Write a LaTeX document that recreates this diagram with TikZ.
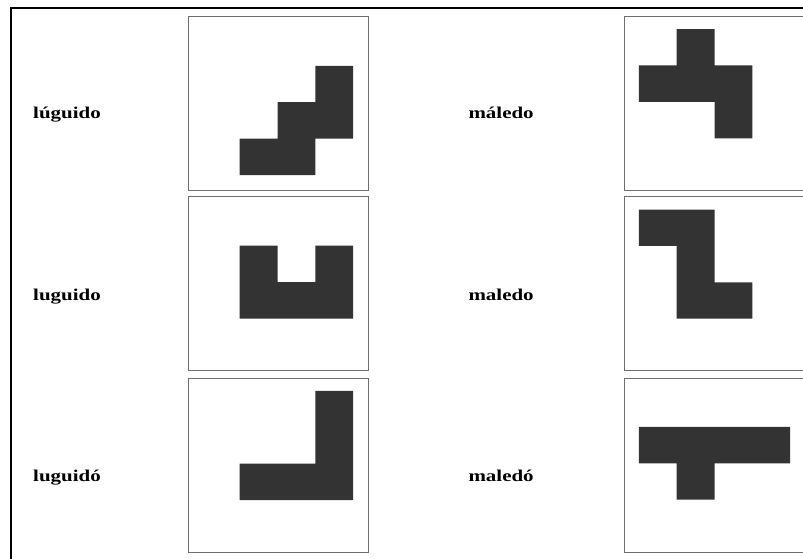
\documentclass[tikz,border=0pt]{standalone}
\usepackage{fontspec}
\setmainfont{Liberation Serif}
\definecolor{panelgrey}{HTML}{6E6E6E}
\definecolor{shapegrey}{HTML}{333333}
\begin{document}
\begin{tikzpicture}[x=1pt,y=-1pt,
  panel/.style={draw=panelgrey, line width=1.2pt, minimum width=180pt, minimum height=174pt, inner sep=0pt, anchor=north west},
  rpanel/.style={panel, minimum width=180pt},
  word/.style={font=\bfseries\fontsize{16.5}{16.5}\selectfont, anchor=base west, inner sep=0pt},
  tile/.style={fill=shapegrey},
  frameline/.style={line width=2.8pt, black}]
\useasboundingbox (0,0) rectangle (803,559);
% outer frame
\coordinate (fc) at (11,8);
\coordinate (fb) at (11,570);
\coordinate (fr) at (815,8);
\draw[frameline] (fb) -- (fc) -- (fr);
% panels
\node[panel] (p1) at (187.7,16) {};
\node[panel] (p2) at (187.7,195.5) {};
\node[panel] (p3) at (187.7,377.5) {};
\node[rpanel] (q1) at (624,16) {};
\node[rpanel] (q2) at (624,195.5) {};
\node[rpanel] (q3) at (624,377.5) {};
% labels
\node[word] (w1) at (33,118.3) {\scalebox{1.27}[1]{lúguido}};
\node[word] (w2) at (33,300) {\scalebox{1.27}[1]{luguido}};
\node[word] (w3) at (33,481) {\scalebox{1.27}[1]{luguidó}};
\node[word] (v1) at (468.3,118.3) {\scalebox{1.27}[1]{máledo}};
\node[word] (v2) at (468.3,300) {\scalebox{1.27}[1]{maledo}};
\node[word] (v3) at (468.3,481) {\scalebox{1.27}[1]{maledó}};
% shapes
\begin{scope}[shift={(p1.north west)}, xshift=52pt, yshift=-49.8pt, x=37.8pt, y=-36.4pt]
  \fill[tile] (2,0) -- (3,0) -- (3,2) -- (2,2) -- (2,3) -- (0,3) -- (0,2) -- (1,2) -- (1,1) -- (2,1) -- cycle;
\end{scope}
\begin{scope}[shift={(p2.north west)}, xshift=52pt, yshift=-50.2pt, x=37.8pt, y=-36.4pt]
  \fill[tile] (0,0) -- (1,0) -- (1,1) -- (2,1) -- (2,0) -- (3,0) -- (3,2) -- (0,2) -- cycle;
\end{scope}
\begin{scope}[shift={(p3.north west)}, xshift=52pt, yshift=-49.7pt, x=37.8pt, y=-36.4pt]
  \fill[tile] (2,-1) -- (3,-1) -- (3,2) -- (0,2) -- (0,1) -- (2,1) -- cycle;
\end{scope}
\begin{scope}[shift={(q1.north west)}, xshift=52.7pt, yshift=-49.5pt, x=37.8pt, y=-36.4pt]
  \fill[tile] (0,-1) -- (1,-1) -- (1,0) -- (2,0) -- (2,2) -- (1,2) -- (1,1) -- (-1,1) -- (-1,0) -- (0,0) -- cycle;
\end{scope}
\begin{scope}[shift={(q2.north west)}, xshift=52.7pt, yshift=-50.4pt, x=37.8pt, y=-36.4pt]
  \fill[tile] (-1,-1) -- (1,-1) -- (1,1) -- (2,1) -- (2,2) -- (0,2) -- (0,0) -- (-1,0) -- cycle;
\end{scope}
\begin{scope}[shift={(q3.north west)}, xshift=52.7pt, yshift=-49.4pt, x=37.8pt, y=-36.4pt]
  \fill[tile] (-1,0) -- (3,0) -- (3,1) -- (1,1) -- (1,2) -- (0,2) -- (0,1) -- (-1,1) -- cycle;
\end{scope}
\end{tikzpicture}
\end{document}
